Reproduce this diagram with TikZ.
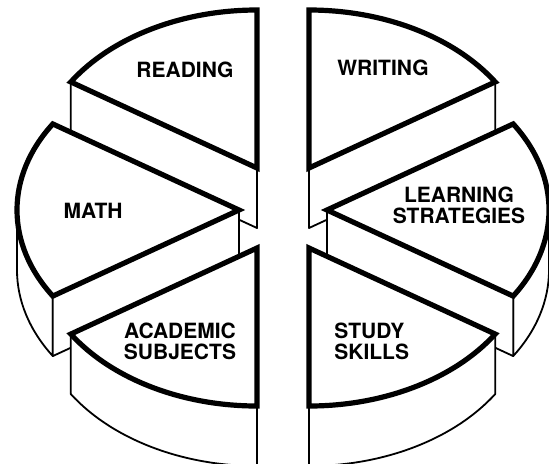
\documentclass[tikz,border=0pt]{standalone}
\usepackage{fontspec}
\newfontfamily\piefont{TeX Gyre Heros}
\usetikzlibrary{positioning}
\tikzstyle{topface} = [draw,fill=white,line width=2.6pt,line join=miter]
\tikzstyle{sidewall} = [draw,fill=white,line width=0.9pt,line join=round]
\tikzstyle{slicelabel} = [font=\piefont\bfseries\fontsize{10.5}{10.5}\selectfont,align=center,inner sep=0]
\tikzset{rim/.style={x radius=\ra,y radius=\rb}}
\def \ra {222}
\def \rb {158}
\def \wh {60}

\begin{document}
\begin{tikzpicture}[x=0.5pt,y=0.5pt]
      \useasboundingbox (0,0) rectangle (549,463);
      \clip (0,0) rectangle (549,463);
      \coordinate (cread) at (257,295);
      \coordinate (cwrite) at (309,295);
      \coordinate (cmath) at (239,253);
      \coordinate (clearn) at (327,253);
      \coordinate (cacad) at (257,215);
      \coordinate (cstudy) at (309,215);
      \draw[sidewall] (cread) ++(0,-\wh) -- ++(147:{\ra} and {\rb}) -- ++(0,\wh) -- (cread) -- cycle;
      \draw[topface] (cread) -- ++(90:{\ra} and {\rb}) arc[start angle=90,end angle=147,rim] -- cycle;
      \draw[sidewall] (cwrite) ++(0,-\wh) -- ++(33:{\ra} and {\rb}) -- ++(0,\wh) -- (cwrite) -- cycle;
      \draw[topface] (cwrite) -- ++(33:{\ra} and {\rb}) arc[start angle=33,end angle=90,rim] -- cycle;
      \draw[sidewall] (cmath) ++(180:{\ra} and {\rb}) arc[start angle=180,end angle=213,rim] -- ++(0,-\wh) arc[start angle=213,end angle=180,rim] -- cycle;
      \draw[sidewall] (cmath) ++(0,-\wh) -- ++(213:{\ra} and {\rb}) -- ++(0,\wh) -- (cmath) -- cycle;
      \draw[topface] (cmath) -- ++(147:{\ra} and {\rb}) arc[start angle=147,end angle=213,rim] -- cycle;
      \draw[sidewall] (clearn) ++(-33:{\ra} and {\rb}) arc[start angle=-33,end angle=0,rim] -- ++(0,-\wh) arc[start angle=0,end angle=-33,rim] -- cycle;
      \draw[sidewall] (clearn) ++(0,-\wh) -- ++(-33:{\ra} and {\rb}) -- ++(0,\wh) -- (clearn) -- cycle;
      \draw[topface] (clearn) -- ++(-33:{\ra} and {\rb}) arc[start angle=-33,end angle=33,rim] -- cycle;
      \draw[sidewall] (cacad) ++(213:{\ra} and {\rb}) arc[start angle=213,end angle=270,rim] -- ++(0,-\wh) arc[start angle=270,end angle=213,rim] -- cycle;
      \draw[topface] (cacad) -- ++(213:{\ra} and {\rb}) arc[start angle=213,end angle=270,rim] -- cycle;
      \draw[sidewall] (cstudy) ++(270:{\ra} and {\rb}) arc[start angle=270,end angle=327,rim] -- ++(0,-\wh) arc[start angle=327,end angle=270,rim] -- cycle;
      \draw[topface] (cstudy) -- ++(270:{\ra} and {\rb}) arc[start angle=270,end angle=327,rim] -- cycle;
      \node[slicelabel] (reading) at (185,393) {READING};
      \node[slicelabel] (writing) at (383,395) {WRITING};
      \node[slicelabel] (math) at (93,252) {MATH};
      \node[slicelabel] (learning) at (459,258) {LEARNING\\STRATEGIES};
      \node[slicelabel] (academic) at (180,122) {ACADEMIC\\SUBJECTS};
      \node[slicelabel,align=left,anchor=west] (study) at (334,122) {STUDY\\SKILLS};
    \end{tikzpicture}
\end{document}
